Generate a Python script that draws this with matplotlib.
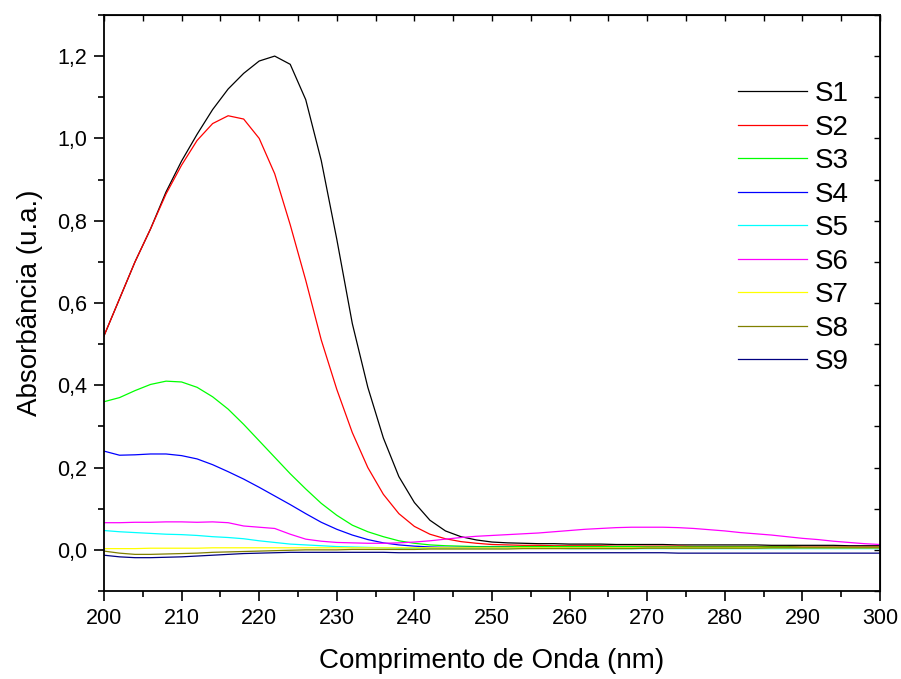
import matplotlib
matplotlib.use("Agg")
from matplotlib import pyplot as plt
import matplotlib.ticker as mticker

plt.rcParams['font.family'] = ['Liberation Sans', 'DejaVu Sans']

wavelength = list(range(200, 301, 2))

s1 = [0.52, 0.61, 0.70, 0.78, 0.87, 0.945, 1.01, 1.07, 1.12, 1.158,
      1.188, 1.20, 1.18, 1.094, 0.946, 0.755, 0.55, 0.395, 0.272, 0.178,
      0.115, 0.072, 0.046, 0.032, 0.024, 0.019, 0.017, 0.016, 0.015, 0.015,
      0.014, 0.014, 0.014, 0.013, 0.013, 0.013, 0.013, 0.012, 0.012, 0.012,
      0.012, 0.012, 0.012, 0.011, 0.011, 0.011, 0.011, 0.011, 0.010, 0.010, 0.010]
s2 = [0.52, 0.61, 0.70, 0.78, 0.865, 0.935, 0.995, 1.036, 1.055, 1.047,
      1.0, 0.914, 0.79, 0.655, 0.51, 0.39, 0.285, 0.20, 0.135, 0.088,
      0.057, 0.038, 0.027, 0.020, 0.016, 0.013, 0.012, 0.011, 0.011, 0.010,
      0.010, 0.010, 0.010, 0.009, 0.009, 0.009, 0.009, 0.009, 0.008, 0.008,
      0.008, 0.008, 0.008, 0.008, 0.008, 0.007, 0.007, 0.007, 0.007, 0.007, 0.007]
s3 = [0.36, 0.37, 0.387, 0.402, 0.41, 0.408, 0.395, 0.372, 0.342, 0.305,
      0.265, 0.225, 0.185, 0.148, 0.113, 0.084, 0.060, 0.044, 0.032, 0.022,
      0.016, 0.012, 0.010, 0.009, 0.008, 0.008, 0.008, 0.008, 0.008, 0.008,
      0.008, 0.008, 0.008, 0.008, 0.008, 0.007, 0.007, 0.007, 0.007, 0.007,
      0.007, 0.007, 0.007, 0.007, 0.007, 0.006, 0.006, 0.006, 0.006, 0.006, 0.006]
s4 = [0.24, 0.23, 0.231, 0.233, 0.233, 0.229, 0.221, 0.207, 0.19, 0.172,
      0.152, 0.131, 0.11, 0.088, 0.067, 0.050, 0.036, 0.025, 0.017, 0.012,
      0.009, 0.007, 0.006, 0.006, 0.006, 0.006, 0.006, 0.005, 0.005, 0.005,
      0.005, 0.005, 0.005, 0.005, 0.005, 0.005, 0.005, 0.005, 0.005, 0.005,
      0.005, 0.004, 0.004, 0.004, 0.004, 0.004, 0.004, 0.004, 0.004, 0.004, 0.004]
s5 = [0.047, 0.044, 0.042, 0.040, 0.038, 0.037, 0.035, 0.032, 0.030, 0.027,
      0.022, 0.018, 0.014, 0.012, 0.010, 0.008, 0.007, 0.006, 0.005, 0.004,
      0.004, 0.004, 0.004, 0.004, 0.004, 0.004, 0.004, 0.004, 0.004, 0.004,
      0.003, 0.003, 0.003, 0.003, 0.003, 0.003, 0.003, 0.003, 0.003, 0.003,
      0.003, 0.003, 0.003, 0.003, 0.003, 0.003, 0.003, 0.003, 0.003, 0.003, 0.003]
s6 = [0.066, 0.066, 0.067, 0.067, 0.068, 0.068, 0.067, 0.068, 0.066, 0.058,
      0.055, 0.052, 0.038, 0.026, 0.021, 0.018, 0.017, 0.016, 0.016, 0.017,
      0.019, 0.022, 0.026, 0.030, 0.033, 0.035, 0.037, 0.039, 0.041, 0.044,
      0.047, 0.050, 0.052, 0.054, 0.055, 0.055, 0.055, 0.054, 0.052, 0.049,
      0.046, 0.042, 0.039, 0.036, 0.032, 0.028, 0.025, 0.021, 0.018, 0.015, 0.013]
s7 = [0.003, 0.003, 0.003, 0.004, 0.004, 0.004, 0.004, 0.005, 0.005, 0.005,
      0.005, 0.005, 0.005, 0.005, 0.005, 0.005, 0.005, 0.005, 0.005, 0.005,
      0.005, 0.005, 0.005, 0.005, 0.005, 0.005, 0.005, 0.005, 0.005, 0.005,
      0.005, 0.005, 0.005, 0.005, 0.005, 0.005, 0.005, 0.005, 0.005, 0.005,
      0.005, 0.005, 0.005, 0.005, 0.005, 0.005, 0.005, 0.005, 0.005, 0.005, 0.005]
s8 = [-0.003, -0.008, -0.011, -0.011, -0.010, -0.009, -0.008, -0.006, -0.005, -0.004,
      -0.003, -0.002, -0.001, 0.000, 0.000, 0.000, 0.001, 0.001, 0.001, 0.001,
      0.001, 0.002, 0.002, 0.002, 0.002, 0.002, 0.002, 0.003, 0.003, 0.003,
      0.003, 0.003, 0.003, 0.003, 0.003, 0.004, 0.004, 0.004, 0.004, 0.004,
      0.004, 0.004, 0.004, 0.005, 0.005, 0.005, 0.005, 0.005, 0.005, 0.005, 0.005]
s9 = [-0.013, -0.017, -0.019, -0.019, -0.018, -0.017, -0.015, -0.013, -0.011, -0.009,
      -0.008, -0.007, -0.006, -0.006, -0.006, -0.006, -0.006, -0.006, -0.006, -0.007,
      -0.007, -0.007, -0.007, -0.007, -0.007, -0.007, -0.007, -0.007, -0.007, -0.007,
      -0.007, -0.007, -0.007, -0.007, -0.007, -0.007, -0.007, -0.008, -0.008, -0.008,
      -0.008, -0.008, -0.008, -0.008, -0.008, -0.008, -0.008, -0.008, -0.008, -0.008, -0.008]

series = [s1, s2, s3, s4, s5, s6, s7, s8, s9]
labels = ["S1", "S2", "S3", "S4", "S5", "S6", "S7", "S8", "S9"]
colors = ["black", "#ff0000", "#00ff00", "#0000ff", "#00ffff",
          "#ff00ff", "#ffff00", "#808000", "#000080"]

fig = plt.figure(figsize=(9.01, 6.79), dpi=100)
ax = fig.add_axes([0.1154, 0.1296, 0.8613, 0.8484])

for y, lab, c in zip(series, labels, colors):
	ax.plot(wavelength, y, color=c, linewidth=0.9, label=lab)

ax.set_xlim([200, 300])
ax.set_ylim([-0.1, 1.3])
ax.xaxis.set_major_locator(mticker.MultipleLocator(10))
ax.xaxis.set_minor_locator(mticker.MultipleLocator(5))
ax.yaxis.set_major_locator(mticker.FixedLocator([0.0, 0.2, 0.4, 0.6, 0.8, 1.0, 1.2]))
ax.yaxis.set_minor_locator(mticker.MultipleLocator(0.1))
ax.yaxis.set_major_formatter(mticker.FuncFormatter(lambda v, p: ("%.1f" % v).replace('.', ',')))
ax.tick_params(which='major', direction='out', length=7, width=1.2, labelsize=15.5, pad=5)
ax.tick_params(which='minor', direction='out', length=4.5, width=1.2)
for sp in ax.spines.values():
	sp.set_linewidth(1.3)

# inward ticks on top and right
top = ax.secondary_xaxis('top')
top.xaxis.set_major_locator(mticker.MultipleLocator(5))
top.tick_params(direction='in', length=4, width=1.0, labeltop=False)
right = ax.secondary_yaxis('right')
right.yaxis.set_major_locator(mticker.MultipleLocator(0.1))
right.tick_params(direction='in', length=4, width=1.0, labelright=False)

ax.set_xlabel("Comprimento de Onda (nm)", fontsize=20, labelpad=14)
ax.set_ylabel("Absorbância (u.a.)", fontsize=20, labelpad=10)

ax.legend(loc='upper left', bbox_to_anchor=(0.817, 0.885), frameon=False, fontsize=20,
	handlelength=2.5, handletextpad=0.25, labelspacing=0.27, borderpad=0, borderaxespad=0)

plt.savefig("out.png", dpi=100)
